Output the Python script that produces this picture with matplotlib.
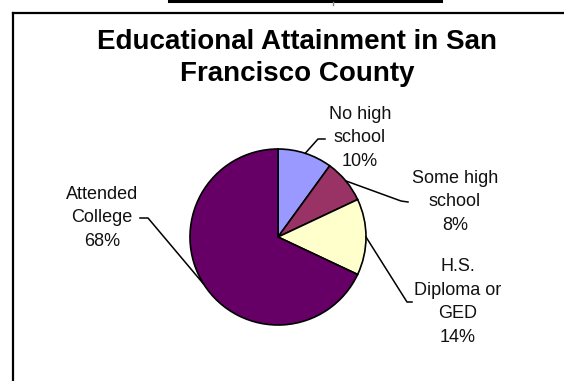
import numpy as np
import matplotlib
matplotlib.use("Agg")
import matplotlib.pyplot as plt
from matplotlib.lines import Line2D

plt.rcParams['font.family'] = ['Liberation Sans', 'DejaVu Sans']

# data
categories = ["No high\nschool", "Some high\nschool", "H.S.\nDiploma or\nGED", "Attended\nCollege"]
shares = [10, 8, 14, 68]
colors = ["#9999FF", "#993366", "#FFFFCC", "#660066"]

title = "Educational Attainment in San\nFrancisco County"

W, H = 564, 381
fig = plt.figure(figsize=(W / 100, H / 100), dpi=100)
ax = fig.add_axes([0, 0, 1, 1])
ax.set_xlim(0, W)
ax.set_ylim(0, H)
ax.set_aspect("equal")
ax.axis("off")

def py(y):
    # pixel row (from top) -> data y
    return H - y

# frame of the chart (clipped on the right / bottom)
ax.add_line(Line2D([13, 13], [py(381), py(13)], color="black", lw=1.6))
ax.add_line(Line2D([13, 564], [py(13), py(13)], color="black", lw=1.6))
# bit of the element above
ax.add_line(Line2D([169, 441], [py(1), py(1)], color="black", lw=2.2))
ax.add_line(Line2D([333, 333], [py(2), py(5)], color="#888888", lw=1.0))

ax.text(297, py(58), title, ha="center", va="center", fontsize=20,
        fontweight="bold", linespacing=1.34)

cx, cy, r = 278, py(237), 88
wedges, _ = ax.pie(shares, colors=colors, startangle=90, counterclock=False,
                   center=(cx, cy), radius=r,
                   wedgeprops=dict(edgecolor="black", linewidth=1.2))
ax.set_xlim(0, W)
ax.set_ylim(0, H)

# label text position, elbow and end of leader (pixels)
label_pos = [(360, 138), (455, 202), (458, 302), (102, 218)]
leader = [[(318, 139), (325, 139)],
          [(401, 201), (408, 202)],
          [(407, 302), (412, 302)],
          [(148, 218), (140, 218)]]

total = float(sum(shares))
cum = 0.0
for name, v, (lx, ly), pts in zip(categories, shares, label_pos, leader):
    mid = np.deg2rad(90 - 360 * (cum + v / 2) / total)
    cum += v
    ex, ey = cx + r * np.cos(mid), cy + r * np.sin(mid)
    xs = [ex] + [p[0] for p in pts]
    ys = [ey] + [py(p[1]) for p in pts]
    ax.add_line(Line2D(xs, ys, color="black", lw=1.1))
    ax.text(lx, py(ly), f"{name}\n{v:.0f}%", ha="center", va="center",
            fontsize=13, color="#111111", linespacing=1.5)

fig.savefig("out.png", dpi=100)
